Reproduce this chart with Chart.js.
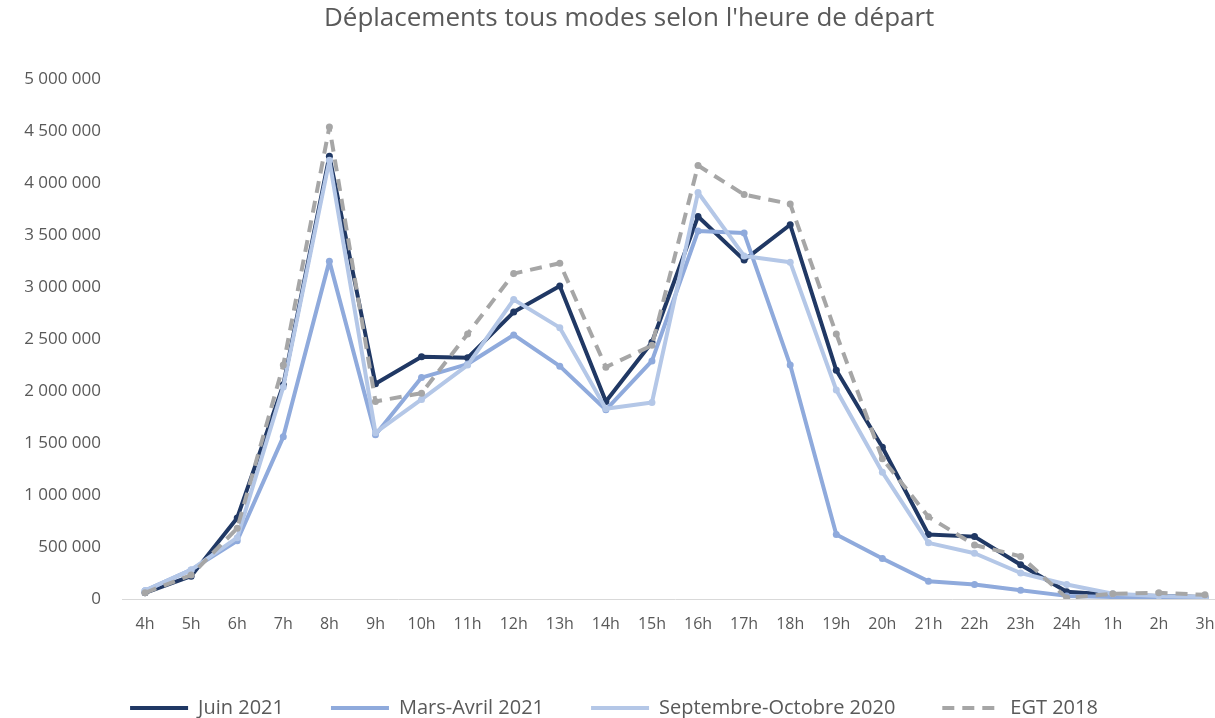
<!DOCTYPE html>
<html>
<head>
<meta charset="utf-8">
<script src="https://cdn.jsdelivr.net/npm/chart.js@4/dist/chart.umd.min.js"></script>
<style>
  html, body { margin: 0; padding: 0; background: #fff; overflow: hidden; }
  #wrap { position: relative; width: 1262px; height: 718px; }
</style>
</head>
<body>
<div id="wrap"><canvas id="DeparturesChart"></canvas></div>
<script>
// hours of departure and number of trips per series
const hours = ["4h","5h","6h","7h","8h","9h","10h","11h","12h","13h","14h","15h","16h","17h","18h","19h","20h","21h","22h","23h","24h","1h","2h","3h"]
const juin2021 = [60000,220000,780000,2060000,4260000,2070000,2330000,2320000,2760000,3010000,1900000,2470000,3680000,3260000,3600000,2200000,1460000,620000,600000,330000,70000,40000,30000,20000]
const marsAvril2021 = [80000,280000,560000,1560000,3250000,1580000,2130000,2260000,2540000,2240000,1820000,2290000,3540000,3520000,2250000,620000,390000,170000,140000,85000,30000,20000,10000,10000]
const septOct2020 = [80000,280000,590000,2040000,4220000,1600000,1920000,2250000,2880000,2610000,1830000,1890000,3910000,3300000,3240000,2010000,1220000,540000,440000,250000,140000,50000,30000,20000]
const egt2018 = [60000,230000,680000,2250000,4540000,1900000,1980000,2550000,3130000,3230000,2230000,2440000,4170000,3890000,3800000,2550000,1350000,790000,520000,410000,10000,50000,60000,40000]

const grey = "#595959"
const font = "'Open Sans', sans-serif"

// fixes the legend height so its row sits near the bottom edge
const legendHeight = {
      id: "legendHeight",
      beforeInit(chart) {
            const fit = chart.legend.fit
            chart.legend.fit = function () {
                  fit.bind(chart.legend)()
                  this.height = 67
            }
      }
}

function spaced(v) {
      return String(v).replace(/\B(?=(\d{3})+(?!\d))/g, " ")
}

// legend samples drawn as thick lines (dashed for EGT)
function lineLabels(chart) {
      const items = Chart.defaults.plugins.legend.labels.generateLabels(chart)
      items.forEach(it => {
            const ds = chart.data.datasets[it.datasetIndex]
            it.pointStyle = "line"
            it.lineWidth = 4
            it.strokeStyle = ds.borderColor
            it.lineDash = ds.borderDash || []
      })
      return items
}

new Chart("DeparturesChart", {
      type: "line",
      data: {
            labels: hours,
            datasets: [
                  {label: "Juin 2021", data: juin2021, borderColor: "#203864", backgroundColor: "#203864", order: 4},
                  {label: "Mars-Avril 2021", data: marsAvril2021, borderColor: "#8faadc", backgroundColor: "#8faadc", order: 3},
                  {label: "Septembre-Octobre 2020", data: septOct2020, borderColor: "#b4c7e7", backgroundColor: "#b4c7e7", order: 2},
                  {label: "EGT 2018", data: egt2018, borderColor: "#a6a6a6", backgroundColor: "#a6a6a6", borderDash: [12, 8], order: 1}
            ]
      },
      options: {
            responsive: true,
            maintainAspectRatio: false,
            animation: false,
            layout: {padding: {left: 0, right: 34, top: 0, bottom: 0}},
            elements: {
                  line: {borderWidth: 4, tension: 0, borderJoinStyle: "round"},
                  point: {radius: 3.5, borderWidth: 0, hoverRadius: 4}
            },
            scales: {
                  x: {
                        offset: true,
                        grid: {display: false, drawTicks: false},
                        border: {display: true, color: "#d9d9d9", width: 1},
                        ticks: {color: grey, font: {family: font, size: 16}, padding: 16, maxRotation: 0, autoSkip: false},
                        afterFit(scale) { scale.height = 52 }
                  },
                  y: {
                        min: 0,
                        max: 5000000,
                        grid: {display: false, drawTicks: false},
                        border: {display: false},
                        ticks: {stepSize: 500000, color: grey, font: {family: font, size: 17}, padding: 21, callback: v => spaced(v)},
                        afterFit(scale) { scale.width = 122 }
                  }
            },
            plugins: {
                  title: {
                        display: true,
                        text: "\u2003\u2009Déplacements tous modes selon l'heure de départ",
                        color: grey,
                        font: {family: font, size: 26, weight: "normal"},
                        padding: {top: 3, bottom: 45}
                  },
                  legend: {
                        position: "bottom",
                        labels: {
                              color: grey,
                              font: {family: font, size: 20},
                              usePointStyle: true,
                              pointStyleWidth: 58,
                              padding: 47,
                              generateLabels: lineLabels,
                              sort: (a, b) => a.datasetIndex - b.datasetIndex
                        }
                  },
                  tooltip: {enabled: false}
            }
      },
      plugins: [legendHeight]
})
</script>
</body>
</html>
